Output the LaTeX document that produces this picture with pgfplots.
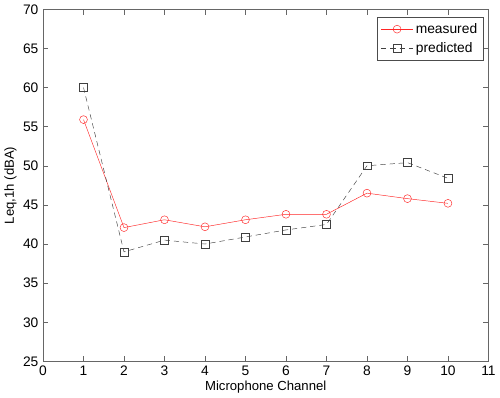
\documentclass[border=0pt]{standalone}
\usepackage{pgfplots}
\pgfplotsset{compat=1.18}
\usepackage{fontspec}
\setmainfont{Liberation Sans}
\begin{document}
\fontsize{10}{12}\selectfont
\begin{tikzpicture}
\begin{axis}[
  scale only axis,
  width=339pt, height=268pt,
  xmin=0, xmax=11, ymin=25, ymax=70,
  xtick={0,1,...,11}, ytick={25,30,...,70},
  tick align=inside,
  major tick length=4pt,
  axis line style={black!60},
  tick style={black!60, line width=0.4pt},
  /pgf/number format/assume math mode=true,
  ticklabel style={font=\fontsize{10.5}{12}\selectfont},
  xlabel={Microphone Channel},
  ylabel={Leq,1h (dBA)},
  label style={font=\fontsize{10}{12}\selectfont},
  xlabel style={yshift=3pt},
  ylabel style={yshift=-2pt},
  legend style={draw=black!70, font=\fontsize{10.5}{12}\selectfont, at={(0.99,0.978)}, anchor=north east, inner xsep=3pt, inner ysep=2.5pt, row sep=1.5pt},
  legend cell align=left,
  legend image code/.code={
    \draw[#1] (0cm,0cm) -- (0.85cm,0cm);
    \draw[#1] plot coordinates {(0.425cm,0cm)};
  },
]
\addplot[red!85!white, line width=0.35pt, mark=o, mark size=3pt, mark options={solid}]
coordinates {(1,55.9) (2,42.1) (3,43.1) (4,42.2) (5,43.1) (6,43.8) (7,43.8) (8,46.5) (9,45.8) (10,45.2)};
\addlegendentry{measured}
\addplot[black!75, line width=0.35pt, dash pattern=on 4pt off 3pt, mark=square, mark size=3pt, mark options={solid}]
coordinates {(1,60) (2,39) (3,40.5) (4,40) (5,40.9) (6,41.8) (7,42.5) (8,50) (9,50.4) (10,48.4)};
\addlegendentry{predicted}
\end{axis}
\end{tikzpicture}
\end{document}
